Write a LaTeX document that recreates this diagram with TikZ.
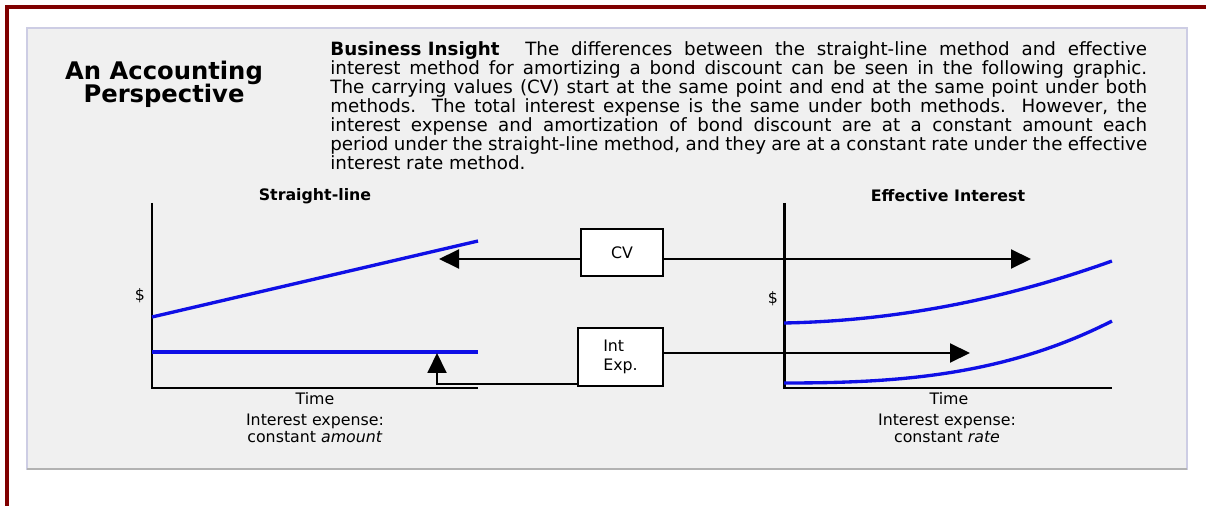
\documentclass[tikz,border=0pt]{standalone}
\usepackage{fontspec}
\setmainfont{DejaVu Sans}
\usetikzlibrary{arrows.meta}

\definecolor{framered}{RGB}{128,0,0}
\definecolor{panelgray}{RGB}{240,240,240}
\definecolor{panelline}{RGB}{205,205,228}
\definecolor{curveblue}{RGB}{15,15,230}

\begin{document}
\begin{tikzpicture}[x=0.02cm,y=-0.02cm,
  axis/.style={line width=1.7pt,line join=miter},
  curve/.style={color=curveblue,line width=1.9pt},
  link/.style={line width=1.1pt},
  tip/.style={-{Triangle[length=4mm,width=3.8mm]}},
  box/.style={draw,line width=0.9pt,fill=white,minimum width=1.64cm,minimum height=0.94cm,font=\fontsize{9pt}{10.8pt}\selectfont},
  lbl/.style={font=\fontsize{9pt}{9.6pt}\selectfont,align=center},
  head/.style={font=\fontsize{9pt}{10pt}\selectfont\bfseries},
  titletext/.style={anchor=base,inner sep=0pt,font=\fontsize{13.8pt}{14pt}\selectfont\bfseries}]
\useasboundingbox (0,0) rectangle (1206,506);
% frame and panel
\draw[framered,line width=1.8pt] (7,506) -- (7,7) -- (1206,7);
\draw[panelline,fill=panelgray,line width=0.6pt] (27,28) rectangle (1187,469);
\draw[black!30,line width=0.7pt] (27,469) -- (1187,469);
% heading and text
\node (title1) [titletext] at (164,80) {An Accounting};
\node (title2) [titletext] at (164,103) {Perspective};
\node (insight) [anchor=north west,inner sep=0pt,text width=16.34cm,align=justify,
  font=\fontsize{10.4pt}{10.8pt}\selectfont] at (330,41)
  {\mbox{\textbf{Business Insight}}\hspace{1.4em}The differences between the straight-line method and effective\linebreak
  interest method for amortizing a bond discount can be seen in the following graphic.\linebreak
  The carrying values (CV) start at the same point and end at the same point under both\linebreak
  methods. The total interest expense is the same under both methods. However, the\linebreak
  interest expense and amortization of bond discount are at a constant amount each\linebreak
  period under the straight-line method, and they are at a constant rate under the effective\linebreak
  interest rate method.};
% straight-line chart
\draw[axis] (152,203) -- (152,388) -- (478,388);
\draw[curve] (152,317) -- (478,241);
\draw[curve] (152,352) -- (478,352);
\node (slhead) [head] at (315,196) {Straight-line};
\node (sldollar) [lbl] at (140,296) {\$};
\node (sltime) [lbl] at (315,399) {Time};
\node (slnote) [lbl] at (315,428) {Interest expense:\\constant \textit{amount}};
% effective interest chart
\draw[axis] (784,203) -- (784,388) -- (1112,388);
\draw[curve] plot[domain=0:1,samples=40,smooth] ({784+328*\x},{323-62*(0.1*\x+0.9*\x*\x)});
\draw[curve] plot[domain=0:1,samples=40,smooth] ({784+328*\x},{383-62*(0.3*\x*\x+0.7*\x*\x*\x)});
\node (eihead) [head] at (948,196) {Effective Interest};
\node (eidollar) [lbl] at (773,299) {\$};
\node (eitime) [lbl] at (949,399) {Time};
\node (einote) [lbl] at (947,428) {Interest expense:\\constant \textit{rate}};
% boxes and arrows
\node (cv) [box] at (622,252.5) {CV};
\node (ie) [box,minimum width=1.7cm,minimum height=1.16cm,align=left] at (620.5,357) {Int\\Exp.};
\coordinate (cvtip) at (439,259);
\coordinate (cvend) at (1031,259);
\coordinate (ietip) at (970,353);
\coordinate (iecorner) at (437,384);
\coordinate (ieup) at (437,353);
\draw[link,tip] (cv.west |- cvtip) -- (cvtip);
\draw[link,tip] (cv.east |- cvend) -- (cvend);
\draw[link,tip] (ie.east |- ietip) -- (ietip);
\draw[link,tip] (ie.west |- iecorner) -- (iecorner) -- (ieup);
\end{tikzpicture}
\end{document}
